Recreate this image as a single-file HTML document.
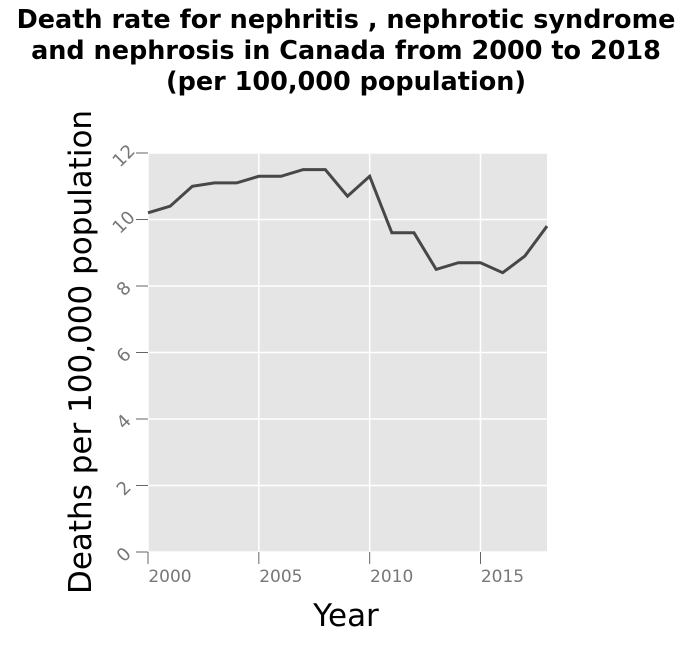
<!DOCTYPE html>
<html><head><meta charset="utf-8"><style>
body{margin:0;background:#fff;}
svg text{font-family:"DejaVu Sans","Liberation Sans",sans-serif;}
</style></head><body>
<svg width="692" height="642" xmlns="http://www.w3.org/2000/svg" id="chart">
<text x="346" y="28" text-anchor="middle" font-size="25.5" font-weight="bold" fill="#000">Death rate for nephritis , nephrotic syndrome</text>
<text x="346" y="59" text-anchor="middle" font-size="25.5" font-weight="bold" fill="#000">and nephrosis in Canada from 2000 to 2018</text>
<text x="346" y="90" text-anchor="middle" font-size="25.5" font-weight="bold" fill="#000">(per 100,000 population)</text>
<rect x="148" y="153" width="399" height="399" fill="#e5e5e5"/>
<g id="grid"></g><g id="axes"></g><g id="series"></g>
<text x="346" y="626" text-anchor="middle" font-size="31" fill="#000">Year</text>
<text transform="translate(91,352) rotate(-90)" text-anchor="middle" font-size="31" fill="#000">Deaths per 100,000 population</text>
</svg>
<script>
const years=[2000,2001,2002,2003,2004,2005,2006,2007,2008,2009,2010,2011,2012,2013,2014,2015,2016,2017,2018];
const rates=[10.2,10.4,11.0,11.1,11.1,11.3,11.3,11.5,11.5,10.7,11.3,9.6,9.6,8.5,8.7,8.7,8.4,8.9,9.8];
const xTicks=[2000,2005,2010,2015];
const yTicks=[0,2,4,6,8,10,12];
const NS="http://www.w3.org/2000/svg";
const X0=148,X1=547,Y0=552,Y1=153;
function xs(v){return X0+(v-2000)/(2018-2000)*(X1-X0);}
function ys(v){return Y0-v/12*(Y0-Y1);}
function mk(t,a,p){const e=document.createElementNS(NS,t);for(const k in a)e.setAttribute(k,a[k]);p.appendChild(e);return e;}
const grid=document.getElementById('grid'),axes=document.getElementById('axes'),ser=document.getElementById('series');
yTicks.forEach(v=>{const y=ys(v);
 const g=mk('line',{x1:X0,x2:X1,y1:y,y2:y,stroke:'#fff','stroke-width':1.5},grid);
 
 
 const t=mk('line',{x1:X0-12,x2:X0,y1:y,y2:y,stroke:'#666','stroke-width':1},axes);
 
 
 const l=mk('text',{x:0,y:0,transform:`translate(${X0-20},${y+7}) rotate(-45)`,'text-anchor':'middle','font-size':18,fill:'#777'},axes);
 l.textContent=v;
 
 
});
xTicks.forEach(v=>{const x=xs(v);
 const g=mk('line',{x1:x,x2:x,y1:Y1,y2:Y0,stroke:'#fff','stroke-width':1.5},grid);
 
 
 const t=mk('line',{x1:x,x2:x,y1:Y0,y2:Y0+12,stroke:'#666','stroke-width':1},axes);
 
 
 const l=mk('text',{x:x+22,y:Y0+30,'text-anchor':'middle','font-size':17,fill:'#777'},axes);
 l.textContent=v;
 
 
});
const p=mk('polyline',{points:years.map((y,i)=>xs(y)+','+ys(rates[i])).join(' '),fill:'none',stroke:'#474747','stroke-width':3,'stroke-linejoin':'miter'},ser);


</script>
</body></html>
